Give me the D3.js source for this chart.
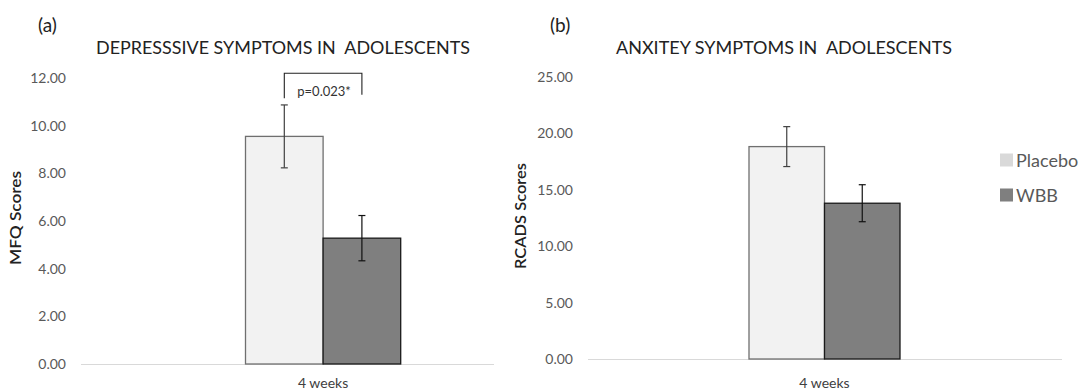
<html lang="en">
<head>
<meta charset="utf-8">
<title>Depressive and anxiety symptoms</title>
<style>
  body { margin: 0; background: white; }
  svg { display: block; font-family: Lato, "Open Sans", sans-serif; }
  .tick text { fill: #595959; font-size: 14px; }
  .title { fill: #222; font-size: 18px; white-space: pre; }
  .panel-id { fill: #222; font-size: 19px; }
  .ylabel { fill: #222; font-size: 16px; font-weight: 600; }
  .xlabel { fill: #404040; font-size: 14px; }
  .legend text { fill: #595959; font-size: 18px; }
</style>
</head>
<body>
<script src="https://cdnjs.cloudflare.com/ajax/libs/d3/7.8.5/d3.min.js"></script>
<script>
// data
var categories = ["4 weeks"];
var groups = ["Placebo", "WBB"];
var groupFill = ["#f2f2f2", "#7f7f7f"];
var groupStroke = ["#6f6f6f", "#1a1a1a"];
var legendFill = ["#d9d9d9", "#7f7f7f"];

var mfqMeans = [9.55, 5.28];
var mfqErrors = [1.32, 0.95];
var mfqTicks = [0, 2, 4, 6, 8, 10, 12];

var rcadsMeans = [18.83, 13.81];
var rcadsErrors = [1.77, 1.64];
var rcadsTicks = [0, 5, 10, 15, 20, 25];

var pLabel = "p=0.023*";

var svg = d3.select("body").append("svg")
    .attr("width", 1085)
    .attr("height", 391);

function drawPanel(cfg) {
    var g = svg.append("g");

    var y = d3.scaleLinear()
        .domain([0, d3.max(cfg.ticks)])
        .range([cfg.bottom, cfg.top]);

    var x0 = d3.scaleBand()
        .domain(categories)
        .range([cfg.barLeft, cfg.barRight]);

    var x1 = d3.scaleBand()
        .domain(groups)
        .range([0, x0.bandwidth()]);

    // baseline
    g.append("line")
        .attr("x1", cfg.plotLeft)
        .attr("x2", cfg.plotRight)
        .attr("y1", y(0) + 0.5)
        .attr("y2", y(0) + 0.5)
        .attr("stroke", "#d9d9d9")
        .attr("stroke-width", 1);

    // y axis
    var yAxis = d3.axisLeft(y)
        .tickValues(cfg.ticks)
        .tickFormat(d3.format(".2f"))
        .tickSize(0)
        .tickPadding(cfg.tickPad);

    g.append("g")
        .attr("transform", "translate(" + cfg.plotLeft + ",0)")
        .call(yAxis)
        .call(function(a) { a.select(".domain").remove(); })
        .selectAll("text")
        .attr("font-family", "Lato, sans-serif");

    var rows = groups.map(function(name, i) {
        return { name: name, mean: cfg.means[i], err: cfg.errors[i], i: i };
    });

    // bars
    g.selectAll("rect.bar")
        .data(rows)
        .enter()
        .append("rect")
        .attr("class", "bar")
        .attr("x", function(d) { return x0(categories[0]) + x1(d.name); })
        .attr("y", function(d) { return y(d.mean); })
        .attr("width", x1.bandwidth())
        .attr("height", function(d) { return y(0) - y(d.mean); })
        .attr("fill", function(d) { return groupFill[d.i]; })
        .attr("stroke", function(d) { return groupStroke[d.i]; })
        .attr("stroke-width", 1.3);

    // error bars
    var cx = function(d) { return x0(categories[0]) + x1(d.name) + x1.bandwidth() / 2; };
    var eb = g.selectAll("g.err")
        .data(rows)
        .enter()
        .append("g")
        .attr("class", "err")
        .attr("stroke", function(d) { return d.i === 0 ? "#404040" : "#111"; })
        .attr("stroke-width", 1.2);

    eb.append("line")
        .attr("x1", cx).attr("x2", cx)
        .attr("y1", function(d) { return y(d.mean + d.err); })
        .attr("y2", function(d) { return y(d.mean - d.err); });
    eb.append("line")
        .attr("x1", function(d) { return cx(d) - 3.5; })
        .attr("x2", function(d) { return cx(d) + 3.5; })
        .attr("y1", function(d) { return y(d.mean + d.err); })
        .attr("y2", function(d) { return y(d.mean + d.err); });
    eb.append("line")
        .attr("x1", function(d) { return cx(d) - 3.5; })
        .attr("x2", function(d) { return cx(d) + 3.5; })
        .attr("y1", function(d) { return y(d.mean - d.err); })
        .attr("y2", function(d) { return y(d.mean - d.err); });

    // category label
    g.append("text")
        .attr("class", "xlabel")
        .attr("x", x0(categories[0]) + x0.bandwidth() / 2)
        .attr("y", 388)
        .attr("text-anchor", "middle")
        .text(categories[0]);

    // titles
    g.append("text")
        .attr("class", "panel-id")
        .attr("x", cfg.idX)
        .attr("y", 32)
        .text(cfg.id);

    g.append("text")
        .attr("class", "title")
        .attr("x", cfg.titleX)
        .attr("y", 54)
        .attr("text-anchor", "middle")
        .attr("textLength", cfg.titleLen)
        .attr("lengthAdjust", "spacingAndGlyphs")
        .text(cfg.title);

    g.append("text")
        .attr("class", "ylabel")
        .attr("transform", "translate(" + cfg.ylabelX + "," + cfg.ylabelY + ") rotate(-90)")
        .attr("text-anchor", "middle")
        .attr("textLength", cfg.ylabelLen)
        .attr("lengthAdjust", "spacingAndGlyphs")
        .text(cfg.ylabel);

    return { y: y, cx: cx, rows: rows };
}

var panelA = drawPanel({
    id: "(a)", idX: 38,
    title: "DEPRESSSIVE SYMPTOMS IN  ADOLESCENTS", titleX: 283, titleLen: 374,
    ylabel: "MFQ Scores", ylabelX: 21, ylabelY: 218, ylabelLen: 94,
    means: mfqMeans, errors: mfqErrors, ticks: mfqTicks,
    top: 78, bottom: 364,
    plotLeft: 81, plotRight: 494, tickPad: 15,
    barLeft: 245.5, barRight: 400.7
});

var panelB = drawPanel({
    id: "(b)", idX: 550,
    title: "ANXITEY SYMPTOMS IN  ADOLESCENTS", titleX: 784, titleLen: 336,
    ylabel: "RCADS Scores", ylabelX: 526, ylabelY: 216, ylabelLen: 106,
    means: rcadsMeans, errors: rcadsErrors, ticks: rcadsTicks,
    top: 77, bottom: 359,
    plotLeft: 588, plotRight: 1062, tickPad: 15,
    barLeft: 749, barRight: 900
});

// significance bracket on panel (a)
var xl = panelA.cx(panelA.rows[0]), xr = panelA.cx(panelA.rows[1]);
var bracketTop = panelA.y(12.2);
svg.append("path")
    .attr("d", "M" + xl + "," + panelA.y(11.15) + "V" + bracketTop + "H" + xr + "V" + panelA.y(11.3))
    .attr("fill", "none")
    .attr("stroke", "#222")
    .attr("stroke-width", 1.1);
svg.append("text")
    .attr("x", (xl + xr) / 2 + 1)
    .attr("y", 96)
    .attr("text-anchor", "middle")
    .attr("fill", "#333")
    .attr("font-size", "13px")
    .text(pLabel);

// legend
var legend = svg.append("g").attr("class", "legend");
var legendY = [160, 195];
groups.forEach(function(name, i) {
    legend.append("rect")
        .attr("x", 1000)
        .attr("y", legendY[i] - 6.5)
        .attr("width", 13)
        .attr("height", 13)
        .attr("fill", legendFill[i]);
    legend.append("text")
        .attr("x", 1016)
        .attr("y", legendY[i] + 6.5)
        .text(name);
});
</script>
</body>
</html>
